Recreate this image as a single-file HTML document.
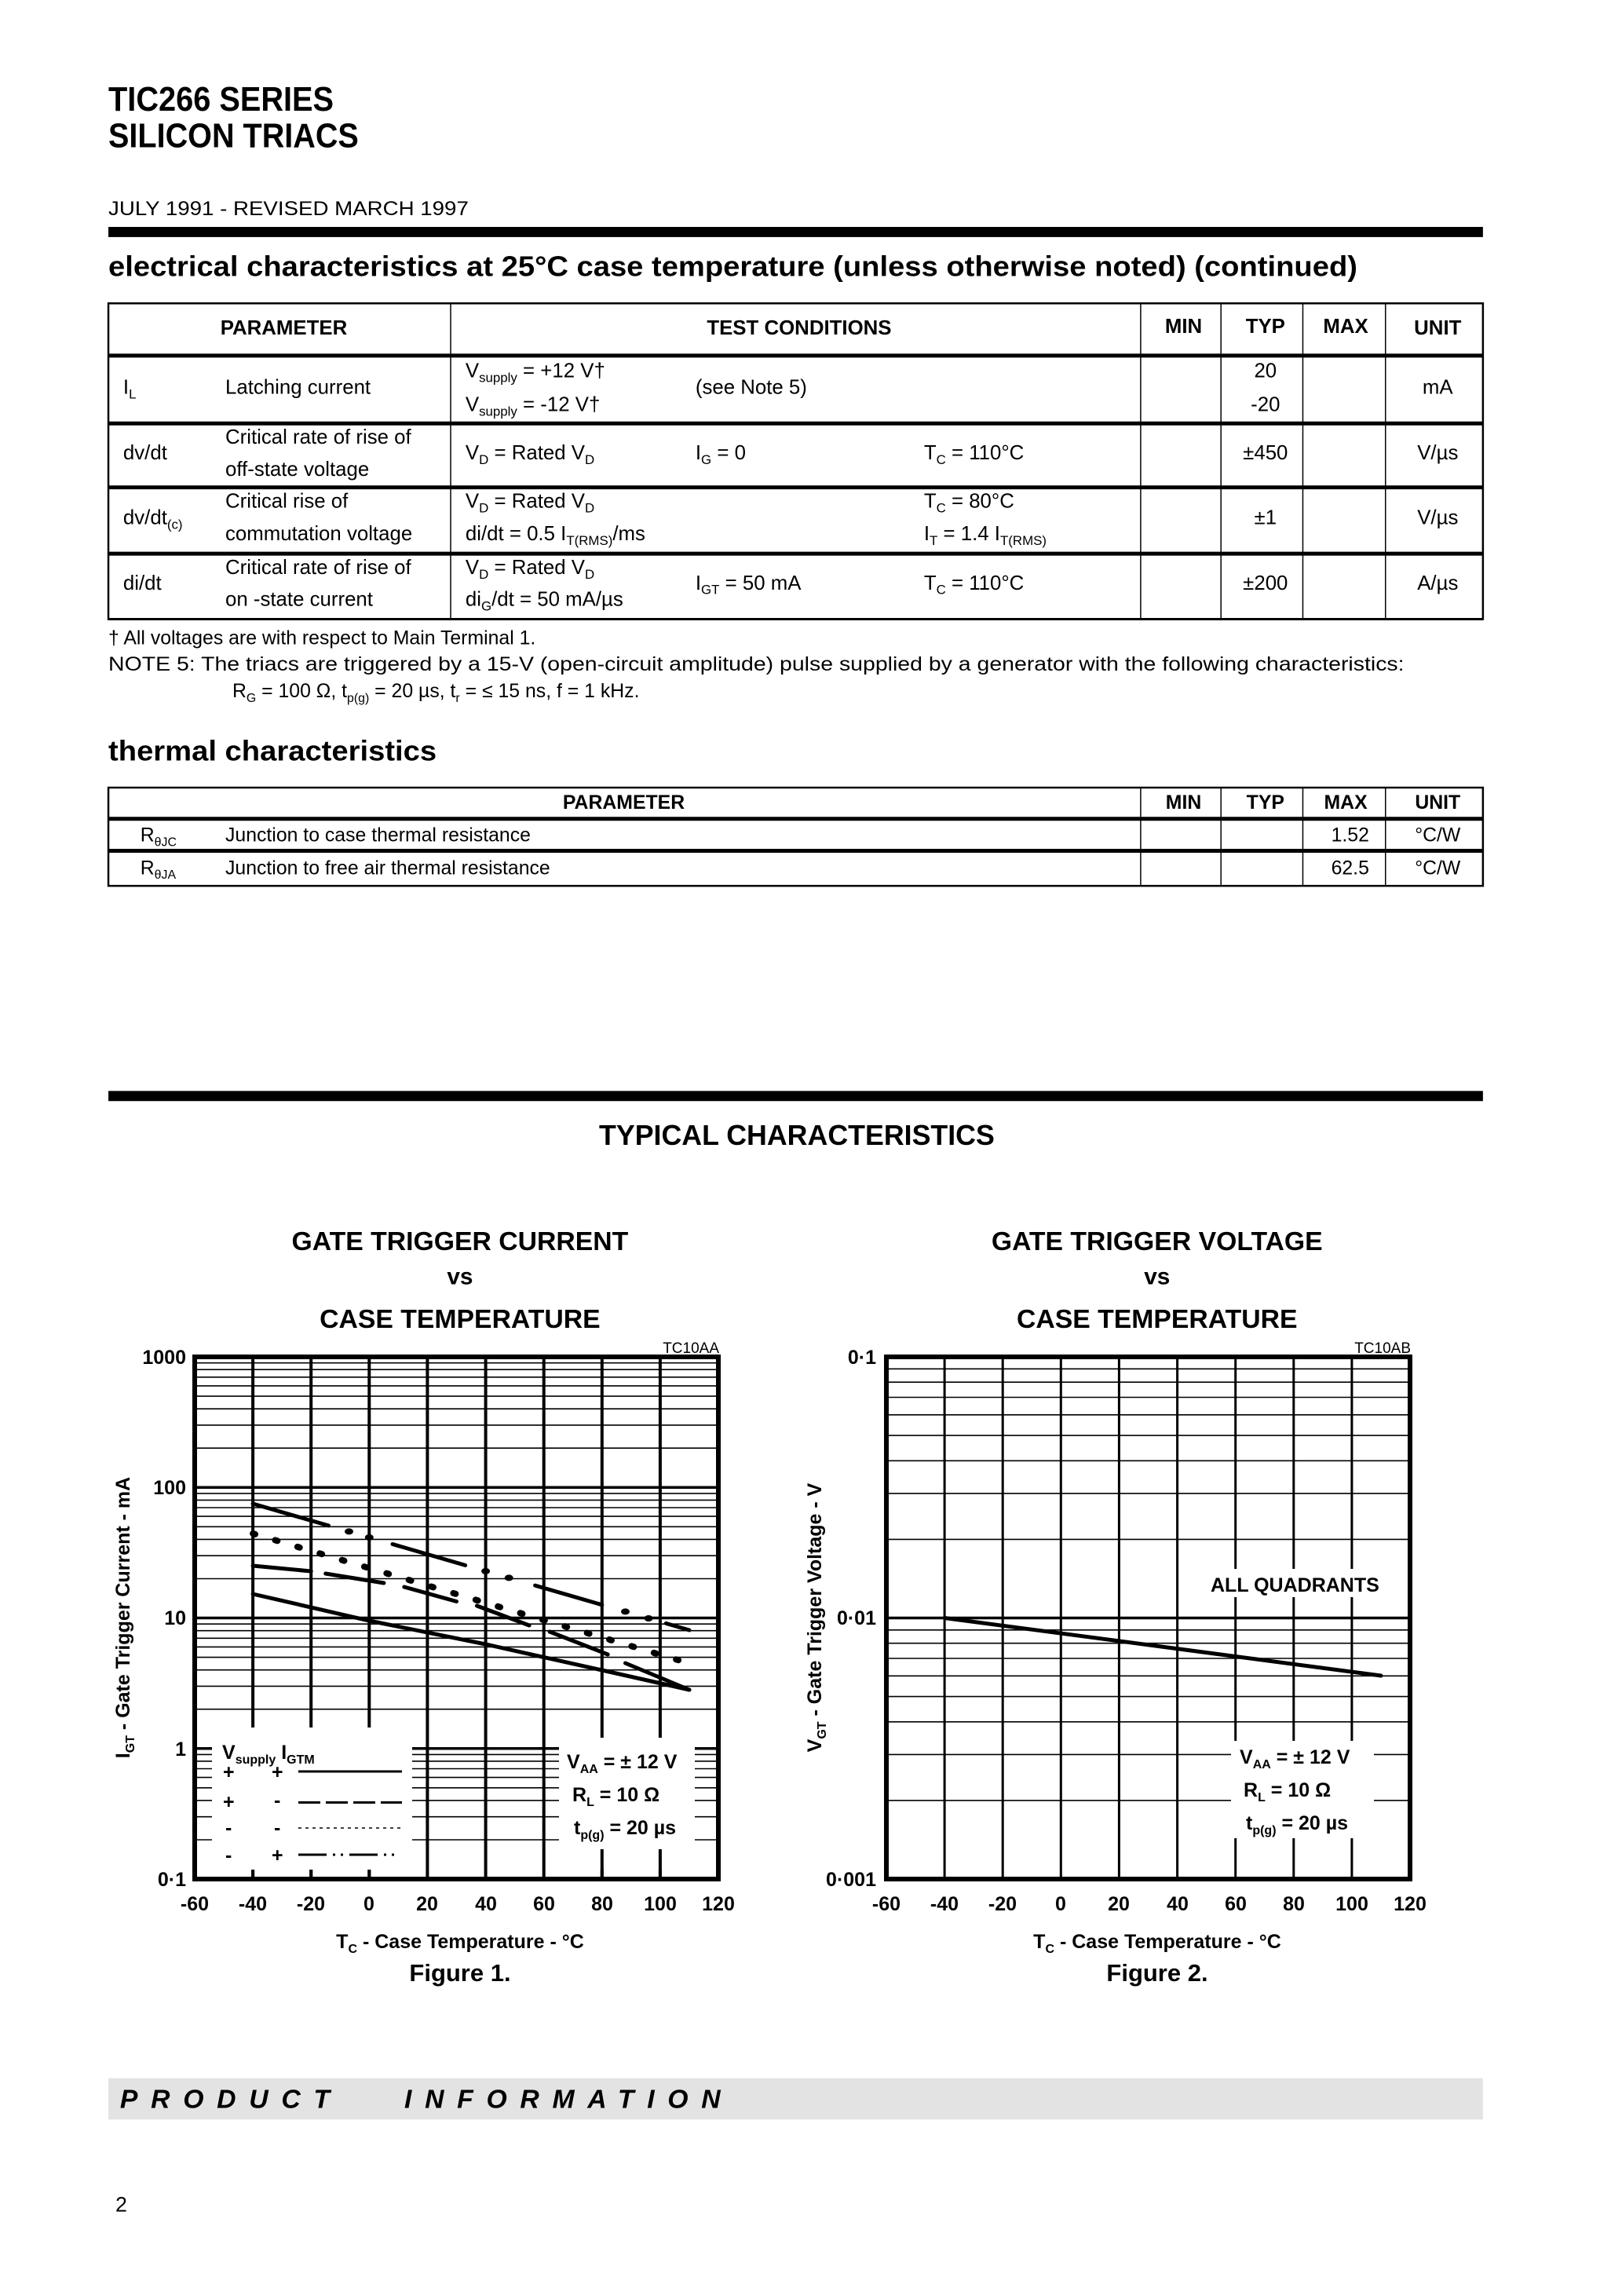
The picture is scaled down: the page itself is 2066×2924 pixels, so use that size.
<!DOCTYPE html>
<html><head><meta charset="utf-8"><style>
html,body{margin:0;padding:0;background:#fff;}
svg{display:block;font-family:"Liberation Sans",Arial,sans-serif;}
</style></head><body>
<svg width="2066" height="2924" viewBox="0 0 2066 2924" xmlns="http://www.w3.org/2000/svg">
<rect width="2066" height="2924" fill="#fff"/>
<g transform="scale(0.9931)">
<!-- Header -->
<g font-weight="bold" font-size="44">
<text x="139" y="142" textLength="289" lengthAdjust="spacingAndGlyphs">TIC266 SERIES</text>
<text x="139" y="189" textLength="321" lengthAdjust="spacingAndGlyphs">SILICON TRIACS</text>
</g>
<text x="139" y="276" font-size="25" textLength="462" lengthAdjust="spacingAndGlyphs">JULY 1991 - REVISED MARCH 1997</text>
<rect x="139" y="291" width="1763" height="13" fill="#000"/>
<text x="139" y="354" font-size="36" font-weight="bold" textLength="1602" lengthAdjust="spacingAndGlyphs">electrical characteristics at 25°C case temperature (unless otherwise noted) (continued)</text>

<!-- Table 1 -->
<g stroke="#000" fill="none">
<rect x="139" y="389" width="1763" height="405" stroke-width="2.5"/>
<line x1="139" y1="456" x2="1902" y2="456" stroke-width="5"/>
<line x1="139" y1="543" x2="1902" y2="543" stroke-width="5"/>
<line x1="139" y1="625" x2="1902" y2="625" stroke-width="5"/>
<line x1="139" y1="710" x2="1902" y2="710" stroke-width="5"/>
<line x1="139" y1="794" x2="1902" y2="794" stroke-width="3"/>
<line x1="578" y1="389" x2="578" y2="794" stroke-width="1.5"/>
<line x1="1463" y1="389" x2="1463" y2="794" stroke-width="1.5"/>
<line x1="1566" y1="389" x2="1566" y2="794" stroke-width="1.5"/>
<line x1="1671" y1="389" x2="1671" y2="794" stroke-width="1.5"/>
<line x1="1777" y1="389" x2="1777" y2="794" stroke-width="1.5"/>
</g>
<g font-size="26" font-weight="bold" text-anchor="middle">
<text x="364" y="429">PARAMETER</text>
<text x="1025" y="429">TEST CONDITIONS</text>
<text x="1518" y="427">MIN</text>
<text x="1623" y="427">TYP</text>
<text x="1726" y="427">MAX</text>
<text x="1844" y="429">UNIT</text>
</g>
<g font-size="26">
<text x="158" y="505">I<tspan font-size="17" dy="6">L</tspan></text>
<text x="289" y="505">Latching current</text>
<text x="597" y="484">V<tspan font-size="17" dy="6">supply</tspan><tspan dy="-6"> = +12 V†</tspan></text>
<text x="597" y="527">V<tspan font-size="17" dy="6">supply</tspan><tspan dy="-6"> =  -12 V†</tspan></text>
<text x="892" y="505">(see Note 5)</text>
<text x="1623" y="484" text-anchor="middle">20</text>
<text x="1623" y="527" text-anchor="middle">-20</text>
<text x="1844" y="505" text-anchor="middle">mA</text>

<text x="158" y="589">dv/dt</text>
<text x="289" y="569">Critical rate of rise of</text>
<text x="289" y="610">off-state voltage</text>
<text x="597" y="589">V<tspan font-size="17" dy="6">D</tspan><tspan dy="-6"> = Rated V</tspan><tspan font-size="17" dy="6">D</tspan></text>
<text x="892" y="589">I<tspan font-size="17" dy="6">G</tspan><tspan dy="-6"> = 0</tspan></text>
<text x="1185" y="589">T<tspan font-size="17" dy="6">C</tspan><tspan dy="-6"> = 110°C</tspan></text>
<text x="1623" y="589" text-anchor="middle">±450</text>
<text x="1844" y="589" text-anchor="middle">V/µs</text>

<text x="158" y="672">dv/dt<tspan font-size="17" dy="6">(c)</tspan></text>
<text x="289" y="651">Critical rise of</text>
<text x="289" y="693">commutation voltage</text>
<text x="597" y="651">V<tspan font-size="17" dy="6">D</tspan><tspan dy="-6"> = Rated V</tspan><tspan font-size="17" dy="6">D</tspan></text>
<text x="597" y="693">di/dt = 0.5 I<tspan font-size="17" dy="6">T(RMS)</tspan><tspan dy="-6">/ms</tspan></text>
<text x="1185" y="651">T<tspan font-size="17" dy="6">C</tspan><tspan dy="-6"> = 80°C</tspan></text>
<text x="1185" y="693">I<tspan font-size="17" dy="6">T</tspan><tspan dy="-6"> = 1.4 I</tspan><tspan font-size="17" dy="6">T(RMS)</tspan></text>
<text x="1623" y="672" text-anchor="middle">±1</text>
<text x="1844" y="672" text-anchor="middle">V/µs</text>

<text x="158" y="756">di/dt</text>
<text x="289" y="736">Critical rate of rise of</text>
<text x="289" y="777">on -state current</text>
<text x="597" y="736">V<tspan font-size="17" dy="6">D</tspan><tspan dy="-6"> = Rated V</tspan><tspan font-size="17" dy="6">D</tspan></text>
<text x="597" y="777">di<tspan font-size="17" dy="6">G</tspan><tspan dy="-6">/dt = 50 mA/µs</tspan></text>
<text x="892" y="756">I<tspan font-size="17" dy="6">GT</tspan><tspan dy="-6"> = 50 mA</tspan></text>
<text x="1185" y="756">T<tspan font-size="17" dy="6">C</tspan><tspan dy="-6"> = 110°C</tspan></text>
<text x="1623" y="756" text-anchor="middle">±200</text>
<text x="1844" y="756" text-anchor="middle">A/µs</text>
</g>

<!-- Notes -->
<g font-size="25">
<text x="139" y="826">† All voltages are with respect to Main Terminal 1.</text>
<text x="139" y="860" textLength="1662" lengthAdjust="spacingAndGlyphs">NOTE     5:  The triacs are triggered by a 15-V (open-circuit amplitude) pulse supplied by a generator with the following characteristics:</text>
<text x="298" y="894">R<tspan font-size="16" dy="6">G</tspan><tspan dy="-6"> = 100 Ω, t</tspan><tspan font-size="16" dy="6">p(g)</tspan><tspan dy="-6"> = 20 µs, t</tspan><tspan font-size="16" dy="6">r</tspan><tspan dy="-6"> = ≤ 15 ns, f = 1 kHz.</tspan></text>
</g>

<text x="139" y="975" font-size="36" font-weight="bold" textLength="421" lengthAdjust="spacingAndGlyphs">thermal characteristics</text>

<!-- Table 2 -->
<g stroke="#000" fill="none">
<rect x="139" y="1010" width="1763" height="126" stroke-width="2.5"/>
<line x1="139" y1="1050" x2="1902" y2="1050" stroke-width="5"/>
<line x1="139" y1="1091" x2="1902" y2="1091" stroke-width="5"/>
<line x1="1463" y1="1010" x2="1463" y2="1136" stroke-width="1.5"/>
<line x1="1566" y1="1010" x2="1566" y2="1136" stroke-width="1.5"/>
<line x1="1671" y1="1010" x2="1671" y2="1136" stroke-width="1.5"/>
<line x1="1777" y1="1010" x2="1777" y2="1136" stroke-width="1.5"/>
</g>
<g font-size="25" font-weight="bold" text-anchor="middle">
<text x="800" y="1037">PARAMETER</text>
<text x="1518" y="1037">MIN</text>
<text x="1623" y="1037">TYP</text>
<text x="1726" y="1037">MAX</text>
<text x="1844" y="1037">UNIT</text>
</g>
<g font-size="25">
<text x="180" y="1079">R<tspan font-size="16" dy="6">θJC</tspan></text>
<text x="289" y="1079">Junction to case thermal resistance</text>
<text x="1756" y="1079" text-anchor="end">1.52</text>
<text x="1844" y="1079" text-anchor="middle">°C/W</text>
<text x="180" y="1121">R<tspan font-size="16" dy="6">θJA</tspan></text>
<text x="289" y="1121">Junction to free air thermal resistance</text>
<text x="1756" y="1121" text-anchor="end">62.5</text>
<text x="1844" y="1121" text-anchor="middle">°C/W</text>
</g>

<rect x="139" y="1399" width="1763" height="13" fill="#000"/>
<text x="1022" y="1468" font-size="36" font-weight="bold" text-anchor="middle">TYPICAL CHARACTERISTICS</text>

<!-- Chart titles -->
<g font-size="34" font-weight="bold" text-anchor="middle">
<text x="590" y="1603">GATE TRIGGER CURRENT</text>
<text x="590" y="1647" font-size="30">vs</text>
<text x="590" y="1703">CASE TEMPERATURE</text>
<text x="1484" y="1603">GATE TRIGGER VOLTAGE</text>
<text x="1484" y="1647" font-size="30">vs</text>
<text x="1484" y="1703">CASE TEMPERATURE</text>
</g>

<!-- Footer -->
<rect x="139" y="2665" width="1763" height="53" fill="#e3e3e3"/>
<text x="154" y="2703" font-size="34" font-weight="bold" font-style="italic" textLength="770" lengthAdjust="spacing" xml:space="preserve">PRODUCT   INFORMATION</text>
<text x="148" y="2836" font-size="27">2</text>
</g>

<g font-size="19" text-anchor="end">
<text x="916" y="1723">TC10AA</text>
<text x="1797" y="1723">TC10AB</text>
</g>

<!-- Figure 1 grid -->
<g stroke="#000" stroke-width="1.6">
<line x1="248" x2="915" y1="2343.0" y2="2343.0"/><line x1="248" x2="915" y1="2313.7" y2="2313.7"/><line x1="248" x2="915" y1="2292.9" y2="2292.9"/><line x1="248" x2="915" y1="2276.8" y2="2276.8"/><line x1="248" x2="915" y1="2263.6" y2="2263.6"/><line x1="248" x2="915" y1="2252.5" y2="2252.5"/><line x1="248" x2="915" y1="2242.9" y2="2242.9"/><line x1="248" x2="915" y1="2234.4" y2="2234.4"/>
<line x1="248" x2="915" y1="2176.7" y2="2176.7"/><line x1="248" x2="915" y1="2147.4" y2="2147.4"/><line x1="248" x2="915" y1="2126.7" y2="2126.7"/><line x1="248" x2="915" y1="2110.6" y2="2110.6"/><line x1="248" x2="915" y1="2097.4" y2="2097.4"/><line x1="248" x2="915" y1="2086.3" y2="2086.3"/><line x1="248" x2="915" y1="2076.7" y2="2076.7"/><line x1="248" x2="915" y1="2068.2" y2="2068.2"/>
<line x1="248" x2="915" y1="2010.5" y2="2010.5"/><line x1="248" x2="915" y1="1981.2" y2="1981.2"/><line x1="248" x2="915" y1="1960.4" y2="1960.4"/><line x1="248" x2="915" y1="1944.3" y2="1944.3"/><line x1="248" x2="915" y1="1931.1" y2="1931.1"/><line x1="248" x2="915" y1="1920.0" y2="1920.0"/><line x1="248" x2="915" y1="1910.4" y2="1910.4"/><line x1="248" x2="915" y1="1901.9" y2="1901.9"/>
<line x1="248" x2="915" y1="1844.2" y2="1844.2"/><line x1="248" x2="915" y1="1814.9" y2="1814.9"/><line x1="248" x2="915" y1="1794.2" y2="1794.2"/><line x1="248" x2="915" y1="1778.1" y2="1778.1"/><line x1="248" x2="915" y1="1764.9" y2="1764.9"/><line x1="248" x2="915" y1="1753.8" y2="1753.8"/><line x1="248" x2="915" y1="1744.2" y2="1744.2"/><line x1="248" x2="915" y1="1735.7" y2="1735.7"/>
</g>
<g stroke="#000" stroke-width="3.5">
<line x1="248" x2="915" y1="2226.75" y2="2226.75"/><line x1="248" x2="915" y1="2060.5" y2="2060.5"/><line x1="248" x2="915" y1="1894.25" y2="1894.25"/>
</g>
<g stroke="#000" stroke-width="4">
<line x1="322.1" x2="322.1" y1="1728" y2="2393"/><line x1="396.2" x2="396.2" y1="1728" y2="2393"/><line x1="470.3" x2="470.3" y1="1728" y2="2393"/><line x1="544.4" x2="544.4" y1="1728" y2="2393"/><line x1="618.6" x2="618.6" y1="1728" y2="2393"/><line x1="692.7" x2="692.7" y1="1728" y2="2393"/><line x1="766.8" x2="766.8" y1="1728" y2="2393"/><line x1="840.9" x2="840.9" y1="1728" y2="2393"/>
</g>
<rect x="270" y="2200" width="255" height="181" fill="#fff"/>
<rect x="712" y="2213" width="173" height="142" fill="#fff"/>
<g stroke="#000" stroke-width="4">
<line x1="322.1" x2="322.1" y1="2381" y2="2393"/><line x1="396.2" x2="396.2" y1="2381" y2="2393"/><line x1="470.3" x2="470.3" y1="2381" y2="2393"/>
<line x1="766.8" x2="766.8" y1="2381" y2="2393"/><line x1="840.9" x2="840.9" y1="2381" y2="2393"/>
</g>
<rect x="248" y="1728" width="667" height="665" fill="none" stroke="#000" stroke-width="6"/>

<!-- Figure 1 curves -->
<g stroke="#000" fill="none" stroke-width="5" stroke-linecap="round">
<polyline points="322.1,2030 470.3,2064 618.6,2094 766.8,2127 878,2152"/>
<line x1="322.1" y1="1915" x2="418.5" y2="1942.9"/>
<line x1="500" y1="1966.5" x2="592.6" y2="1993.4"/>
<line x1="681.6" y1="2019.1" x2="766.8" y2="2043.8"/>
<line x1="848.3" y1="2067.4" x2="878" y2="2076"/>
<line x1="322.1" y1="1994" x2="396.2" y2="2001"/>
<line x1="414.7" y1="2004" x2="488.9" y2="2016"/>
<line x1="514.8" y1="2021" x2="581.5" y2="2039.5"/>
<line x1="607.4" y1="2045" x2="674.1" y2="2070"/>
<line x1="700.1" y1="2078" x2="774.2" y2="2107"/>
<line x1="796.5" y1="2118" x2="878" y2="2152"/>
</g>
<g fill="#000">
<ellipse cx="444.5" cy="1950.4" rx="5.5" ry="4"/><ellipse cx="470.3" cy="1957.9" rx="5.5" ry="4"/>
<ellipse cx="618.6" cy="2000.9" rx="5.5" ry="4"/><ellipse cx="648.2" cy="2009.4" rx="5.5" ry="4"/>
<ellipse cx="796.5" cy="2052.4" rx="5.5" ry="4"/><ellipse cx="826.1" cy="2061" rx="5.5" ry="4"/>
</g>
<line x1="322.1" y1="1953" x2="866.8" y2="2115" stroke="#000" stroke-width="8" stroke-linecap="round" stroke-dasharray="3 26.6"/>

<!-- Figure 1 legend -->
<g font-weight="bold" font-size="25">
<text x="283" y="2240">V<tspan font-size="16" dy="6">supply</tspan><tspan dy="-6" font-size="25"> I</tspan><tspan font-size="16" dy="6">GTM</tspan></text>
<text x="284" y="2265">+</text><text x="346" y="2265">+</text>
<text x="284" y="2303">+</text><text x="349" y="2301">-</text>
<text x="287" y="2336">-</text><text x="349" y="2336">-</text>
<text x="287" y="2371">-</text><text x="346" y="2371">+</text>
</g>
<g stroke="#000" fill="none">
<line x1="380" y1="2256" x2="512" y2="2256" stroke-width="3"/>
<line x1="380" y1="2295.5" x2="512" y2="2295.5" stroke-width="3" stroke-dasharray="28 7"/>
<line x1="380" y1="2328" x2="512" y2="2328" stroke-width="1.6" stroke-dasharray="4 5"/>
<line x1="380" y1="2362" x2="416" y2="2362" stroke-width="3"/>
<line x1="445" y1="2362" x2="481" y2="2362" stroke-width="3"/>
<line x1="424" y1="2362" x2="427" y2="2362" stroke-width="3"/><line x1="434" y1="2362" x2="437" y2="2362" stroke-width="3"/>
<line x1="489" y1="2362" x2="492" y2="2362" stroke-width="3"/><line x1="499" y1="2362" x2="502" y2="2362" stroke-width="3"/>
</g>
<g font-weight="bold" font-size="25">
<text x="722" y="2252">V<tspan font-size="16" dy="6">AA</tspan><tspan dy="-6"> = ± 12 V</tspan></text>
<text x="729" y="2294">R<tspan font-size="16" dy="6">L</tspan><tspan dy="-6"> = 10 Ω</tspan></text>
<text x="731" y="2336">t<tspan font-size="16" dy="6">p(g)</tspan><tspan dy="-6"> = 20 µs</tspan></text>
</g>

<!-- Figure 1 axes labels -->
<g font-weight="bold" font-size="25" text-anchor="end">
<text x="237" y="1737">1000</text>
<text x="237" y="1903">100</text>
<text x="237" y="2069">10</text>
<text x="237" y="2236">1</text>
<text x="237" y="2402">0·1</text>
</g>
<g font-weight="bold" font-size="25" text-anchor="middle">
<text x="248" y="2433">-60</text><text x="322" y="2433">-40</text><text x="396" y="2433">-20</text><text x="470" y="2433">0</text><text x="544" y="2433">20</text><text x="619" y="2433">40</text><text x="693" y="2433">60</text><text x="767" y="2433">80</text><text x="841" y="2433">100</text><text x="915" y="2433">120</text>
<text x="586" y="2481">T<tspan font-size="16" dy="6">C</tspan><tspan dy="-6"> - Case Temperature - °C</tspan></text>
<text x="586" y="2523" font-size="31">Figure 1.</text>
</g>
<text transform="translate(165,2060) rotate(-90)" font-weight="bold" font-size="25" text-anchor="middle">I<tspan font-size="16" dy="6">GT</tspan><tspan dy="-6"> - Gate Trigger Current - mA</tspan></text>

<!-- Figure 2 grid -->
<g stroke="#000" stroke-width="1.6">
<line x1="1129" x2="1796" y1="2292.9" y2="2292.9"/><line x1="1129" x2="1796" y1="2234.4" y2="2234.4"/><line x1="1129" x2="1796" y1="2192.8" y2="2192.8"/><line x1="1129" x2="1796" y1="2160.6" y2="2160.6"/><line x1="1129" x2="1796" y1="2134.3" y2="2134.3"/><line x1="1129" x2="1796" y1="2112.0" y2="2112.0"/><line x1="1129" x2="1796" y1="2092.7" y2="2092.7"/><line x1="1129" x2="1796" y1="2075.8" y2="2075.8"/>
<line x1="1129" x2="1796" y1="1960.4" y2="1960.4"/><line x1="1129" x2="1796" y1="1901.9" y2="1901.9"/><line x1="1129" x2="1796" y1="1860.3" y2="1860.3"/><line x1="1129" x2="1796" y1="1828.1" y2="1828.1"/><line x1="1129" x2="1796" y1="1801.8" y2="1801.8"/><line x1="1129" x2="1796" y1="1779.5" y2="1779.5"/><line x1="1129" x2="1796" y1="1760.2" y2="1760.2"/><line x1="1129" x2="1796" y1="1743.3" y2="1743.3"/>
</g>
<line x1="1129" x2="1796" y1="2060.5" y2="2060.5" stroke="#000" stroke-width="3.5"/>
<g stroke="#000" stroke-width="3">
<line x1="1203.1" x2="1203.1" y1="1728" y2="2393"/><line x1="1277.2" x2="1277.2" y1="1728" y2="2393"/><line x1="1351.3" x2="1351.3" y1="1728" y2="2393"/><line x1="1425.4" x2="1425.4" y1="1728" y2="2393"/><line x1="1499.6" x2="1499.6" y1="1728" y2="2393"/><line x1="1573.7" x2="1573.7" y1="1728" y2="2393"/><line x1="1647.8" x2="1647.8" y1="1728" y2="2393"/><line x1="1721.9" x2="1721.9" y1="1728" y2="2393"/>
</g>
<rect x="1568" y="2217" width="182" height="124" fill="#fff"/>
<rect x="1536" y="1998" width="254" height="36" fill="#fff"/>
<rect x="1129" y="1728" width="667" height="665" fill="none" stroke="#000" stroke-width="6"/>
<line x1="1203.1" y1="2060.5" x2="1759" y2="2134" stroke="#000" stroke-width="5" stroke-linecap="round"/>
<g font-weight="bold" font-size="25">
<text x="1542" y="2027">ALL QUADRANTS</text>
<text x="1579" y="2246">V<tspan font-size="16" dy="6">AA</tspan><tspan dy="-6"> = ± 12 V</tspan></text>
<text x="1584" y="2288">R<tspan font-size="16" dy="6">L</tspan><tspan dy="-6"> = 10 Ω</tspan></text>
<text x="1587" y="2330">t<tspan font-size="16" dy="6">p(g)</tspan><tspan dy="-6"> = 20 µs</tspan></text>
</g>
<g font-weight="bold" font-size="25" text-anchor="end">
<text x="1116" y="1737">0·1</text>
<text x="1116" y="2069">0·01</text>
<text x="1116" y="2402">0·001</text>
</g>
<g font-weight="bold" font-size="25" text-anchor="middle">
<text x="1129" y="2433">-60</text><text x="1203" y="2433">-40</text><text x="1277" y="2433">-20</text><text x="1351" y="2433">0</text><text x="1425" y="2433">20</text><text x="1500" y="2433">40</text><text x="1574" y="2433">60</text><text x="1648" y="2433">80</text><text x="1722" y="2433">100</text><text x="1796" y="2433">120</text>
<text x="1474" y="2481">T<tspan font-size="16" dy="6">C</tspan><tspan dy="-6"> - Case Temperature - °C</tspan></text>
<text x="1474" y="2523" font-size="31">Figure 2.</text>
</g>
<text transform="translate(1046,2060) rotate(-90)" font-weight="bold" font-size="25" text-anchor="middle">V<tspan font-size="16" dy="6">GT</tspan><tspan dy="-6"> - Gate Trigger Voltage - V</tspan></text>
</svg>
</body></html>
